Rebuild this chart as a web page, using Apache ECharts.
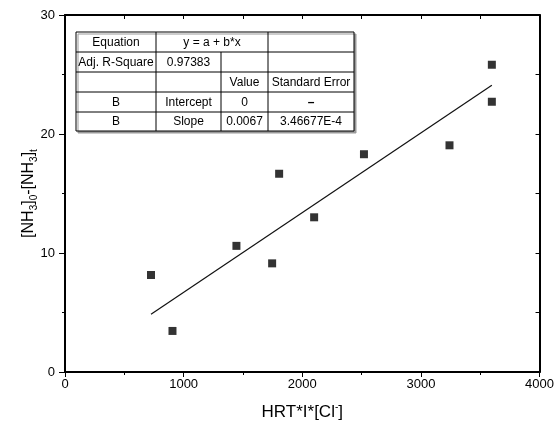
<!DOCTYPE html>
<html>
<head>
<meta charset="utf-8">
<script src="https://cdn.jsdelivr.net/npm/echarts@6/dist/echarts.min.js"></script>
<style>html,body{margin:0;padding:0;background:#fff}#c{width:557px;height:426px}</style>
</head>
<body>
<div id="c"></div>
<script>
// ---- data ----
const xValues = [725, 906, 1445, 1746, 1805, 2100, 2520, 3241, 3598, 3598];
const yValues = [8.15, 3.45, 10.6, 9.13, 16.66, 13.0, 18.3, 19.05, 25.82, 22.71];
const fitX = [725, 3598];
const fitY = [4.86, 24.1];
const xTicks = [0, 1000, 2000, 3000, 4000];
const yTicks = [0, 10, 20, 30];
const tableRows = [
  ["Equation", "y = a + b*x", "", ""],
  ["Adj. R-Square", "0.97383", "", ""],
  ["", "", "Value", "Standard Error"],
  ["B", "Intercept", "0", "\u2013"],
  ["B", "Slope", "0.0067", "3.46677E-4"]
];

const FONT = '"Liberation Sans", Arial, sans-serif';
const chart = echarts.init(document.getElementById('c'), null, {renderer: 'canvas'});

// table layout
const colX = [76, 156, 221, 268, 354];
const rowY = [32, 52, 72, 92, 112, 131];
const g = [];
g.push({type: 'rect', shape: {x: colX[0], y: rowY[0], width: colX[4] - colX[0], height: rowY[5] - rowY[0]},
  style: {fill: '#fff', stroke: '#000', lineWidth: 1, shadowColor: '#999', shadowOffsetX: 2, shadowOffsetY: 2, shadowBlur: 0}, z: 100});
for (let r = 1; r < 5; r++) {
  g.push({type: 'line', shape: {x1: colX[0], y1: rowY[r], x2: colX[4], y2: rowY[r]}, style: {stroke: '#000', lineWidth: 1}, z: 101});
}
g.push({type: 'line', shape: {x1: colX[1], y1: rowY[0], x2: colX[1], y2: rowY[5]}, style: {stroke: '#000', lineWidth: 1}, z: 101});
g.push({type: 'line', shape: {x1: colX[2], y1: rowY[1], x2: colX[2], y2: rowY[5]}, style: {stroke: '#000', lineWidth: 1}, z: 101});
g.push({type: 'line', shape: {x1: colX[3], y1: rowY[0], x2: colX[3], y2: rowY[5]}, style: {stroke: '#000', lineWidth: 1}, z: 101});
tableRows.forEach((row, r) => {
  row.forEach((txt, c) => {
    if (!txt) return;
    let cx = (colX[c] + colX[c + 1]) / 2;
    if (r === 0 && c === 1) cx = (colX[1] + colX[3]) / 2;
    g.push({type: 'text', x: cx, y: (rowY[r] + rowY[r + 1]) / 2 + 0.5, z: 102,
      style: {text: txt, fill: '#000', font: (txt === '\u2013' ? 'bold 12px ' : '12px ') + FONT, textAlign: 'center', textVerticalAlign: 'middle'}});
  });
});

const axisLine = {show: true, onZero: false, lineStyle: {color: '#000', width: 2}};

chart.setOption({
  animation: false,
  backgroundColor: '#fff',
  grid: {left: 65, right: 14, top: 15, bottom: 54},
  xAxis: [{
    type: 'value', min: xTicks[0], max: xTicks[xTicks.length - 1], interval: 1000,
    axisLine: axisLine, splitLine: {show: false},
    axisTick: {show: true, inside: false, length: 5, lineStyle: {color: '#000', width: 1}},
    minorTick: {show: true, splitNumber: 2, length: 3, lineStyle: {color: '#000', width: 1}},
    axisLabel: {color: '#000', fontSize: 13, fontFamily: FONT, margin: 6, formatter: v => String(v)},
    name: '{b|HRT*I*[Cl}{sup|-}{b|]}', nameLocation: 'middle', nameGap: 30, nameMoveOverlap: false,
    nameTextStyle: {rich: {
      b: {fontSize: 17, fontFamily: FONT, color: '#000', lineHeight: 20},
      sup: {fontSize: 10, fontFamily: FONT, color: '#000', verticalAlign: 'top', lineHeight: 20, padding: [0, 0, 8, 0]}
    }}
  }, {
    type: 'value', position: 'top', min: 0, max: 4000, interval: 500,
    axisLine: axisLine, splitLine: {show: false}, axisLabel: {show: false},
    axisTick: {show: true, inside: true, length: 4, lineStyle: {color: '#000', width: 1}}
  }],
  yAxis: [{
    type: 'value', min: yTicks[0], max: yTicks[yTicks.length - 1], interval: 10,
    axisLine: axisLine, splitLine: {show: false},
    axisTick: {show: true, inside: false, length: 6, lineStyle: {color: '#000', width: 1}},
    minorTick: {show: true, splitNumber: 2, length: 3, lineStyle: {color: '#000', width: 1}},
    axisLabel: {color: '#000', fontSize: 13, fontFamily: FONT, margin: 10},
    name: '{b|[NH}{sub|3}{b|]}{sub|0}{b|-[NH}{sub|3}{b|]}{sub|t}', nameLocation: 'middle', nameGap: 26, nameRotate: 90, nameMoveOverlap: false,
    nameTextStyle: {rich: {
      b: {fontSize: 16, fontFamily: FONT, color: '#000', lineHeight: 20},
      sub: {fontSize: 10, fontFamily: FONT, color: '#000', lineHeight: 20, padding: [10, 0, 0, 0]}
    }}
  }, {
    type: 'value', position: 'right', min: 0, max: 30, interval: 5,
    axisLine: axisLine, splitLine: {show: false}, axisLabel: {show: false},
    axisTick: {show: true, inside: true, length: 4, lineStyle: {color: '#000', width: 1}}
  }],
  series: [{
    type: 'scatter', symbol: 'rect', symbolSize: 8,
    itemStyle: {color: '#000'},
    data: xValues.map((x, i) => [x, yValues[i]]), z: 5
  }, {
    type: 'line', symbol: 'none', lineStyle: {color: '#111', width: 1.2},
    data: fitX.map((x, i) => [x, fitY[i]]), z: 4
  }],
  graphic: g
});
</script>
</body>
</html>
